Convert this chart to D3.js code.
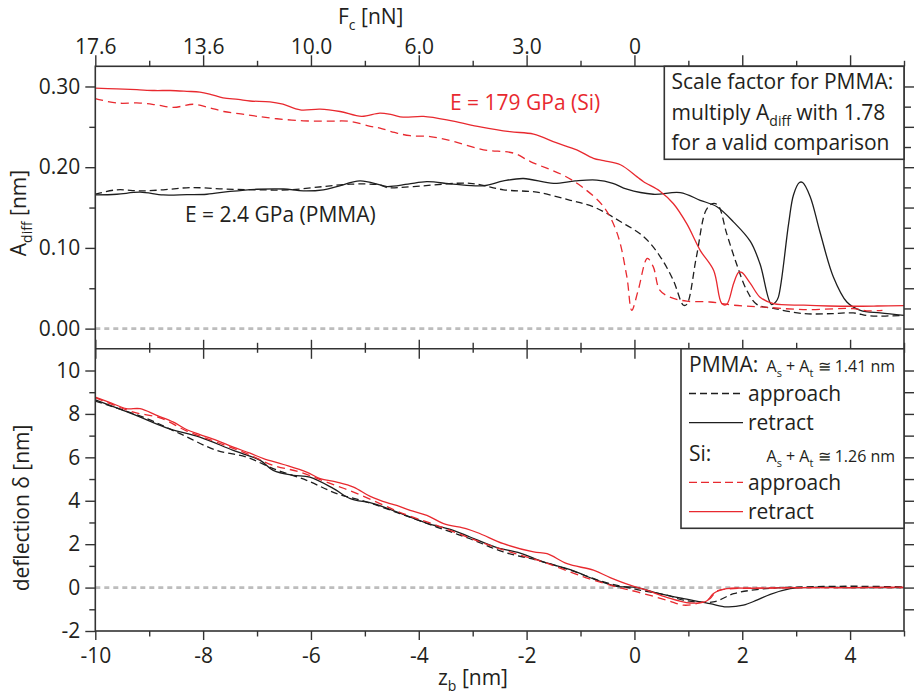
<!DOCTYPE html>
<html>
<head>
<meta charset="utf-8">
<script src="https://cdn.jsdelivr.net/npm/d3@7"></script>
<style>
  html, body { margin: 0; padding: 0; background: #fff; }
  svg { display: block; font-family: "Open Sans", "Noto Sans", sans-serif; }
</style>
</head>
<body>
<svg id="chart" width="914" height="698"></svg>
<script>
// ---- data: z_b in nm, A_diff in nm (top), deflection in nm (bottom) ----
const siRetractAdiff = [
  [-10,0.298],[-9.6,0.297],[-9.23,0.296],[-8.9,0.295],[-8.61,0.295],[-8.3,0.294],[-8.06,0.293],
  [-7.85,0.290],[-7.63,0.286],[-7.35,0.284],[-7.13,0.282],[-6.76,0.281],[-6.52,0.278],[-6.2,0.271],
  [-5.83,0.272],[-5.46,0.269],[-5.06,0.263],[-4.72,0.267],[-4.5,0.265],[-4.29,0.262],[-3.91,0.263],
  [-3.36,0.257],[-2.86,0.250],[-2.31,0.244],[-1.87,0.241],[-1.44,0.230],[-1.07,0.2215],[-0.76,0.211],
  [-0.57,0.208],[-0.26,0.203],[0.05,0.188],[0.17,0.182],[0.48,0.170],[0.72,0.155],[0.97,0.130],
  [1.22,0.097],[1.47,0.072],[1.62,0.031],[1.71,0.030],[1.84,0.056],[1.93,0.0696],[1.99,0.0696],
  [2.15,0.056],[2.33,0.039],[2.58,0.031],[3.14,0.029],[3.6,0.028],[4.06,0.0277],[4.5,0.028],[5.0,0.0286]
];
const siApproachAdiff = [
  [-10,0.285],[-9.6,0.2795],[-9.17,0.2795],[-8.85,0.277],[-8.55,0.274],[-8.18,0.278],[-7.9,0.274],
  [-7.62,0.269],[-7.3,0.266],[-7.0,0.263],[-6.63,0.260],[-6.14,0.2575],[-5.7,0.257],[-5.27,0.2567],
  [-4.9,0.2505],[-4.72,0.2485],[-4.45,0.243],[-4.16,0.239],[-3.79,0.238],[-3.36,0.232],[-2.8,0.2215],
  [-2.24,0.2174],[-1.93,0.207],[-1.32,0.190],[-0.98,0.176],[-0.57,0.151],[-0.32,0.118],[-0.14,0.064],
  [-0.05,0.0227],[0.07,0.0476],[0.24,0.087],[0.35,0.0765],[0.47,0.0476],[0.66,0.039],[0.97,0.034],
  [1.40,0.033],[1.84,0.029],[2.33,0.027],[3.13,0.0236],[4.06,0.0248],[4.31,0.022],[4.6,0.0227]
];
const pmmaRetractAdiff = [
  [-10,0.1656],[-9.6,0.1665],[-9.17,0.169],[-8.74,0.1656],[-8.3,0.166],[-7.93,0.1665],[-7.5,0.170],
  [-7.0,0.1727],[-6.51,0.173],[-6.14,0.1706],[-5.77,0.172],[-5.52,0.176],[-5.09,0.183],[-4.72,0.178],
  [-4.59,0.176],[-4.2,0.179],[-3.85,0.182],[-3.36,0.179],[-2.80,0.177],[-2.43,0.183],[-2.06,0.186],
  [-1.50,0.180],[-1.1,0.183],[-0.70,0.184],[-0.4,0.180],[-0.14,0.1727],[0.35,0.1665],[0.85,0.1685],
  [1.22,0.159],[1.53,0.151],[1.84,0.132],[2.15,0.108],[2.33,0.080],[2.54,0.030],[2.62,0.033],
  [2.67,0.039],[2.86,0.130],[2.95,0.1656],[3.06,0.181],[3.12,0.181],[3.26,0.1635],[3.44,0.120],
  [3.69,0.064],[3.94,0.033],[4.19,0.0227],[4.56,0.0194],[5.0,0.0165]
];
const pmmaApproachAdiff = [
  [-10,0.1665],[-9.6,0.172],[-9.17,0.1706],[-8.74,0.172],[-8.24,0.1747],[-7.62,0.173],[-7.0,0.172],
  [-6.39,0.172],[-5.77,0.176],[-5.27,0.179],[-4.72,0.178],[-4.59,0.1747],[-4.10,0.176],[-3.05,0.180],
  [-2.43,0.172],[-1.81,0.169],[-1.19,0.159],[-0.73,0.150],[-0.27,0.133],[0.17,0.114],[0.48,0.089],
  [0.72,0.060],[0.91,0.029],[0.97,0.030],[1.15,0.089],[1.33,0.147],[1.45,0.155],[1.55,0.153],
  [1.71,0.118],[1.89,0.081],[2.08,0.048],[2.27,0.030],[2.6,0.0248],[3.14,0.0186],[3.67,0.0186],
  [4.06,0.0194],[4.37,0.0157],[5.0,0.0165]
];

const siRetractDefl = [
  [-10,8.77],[-9.7,8.5],[-9.42,8.24],[-9.17,8.24],[-8.86,7.93],[-8.55,7.62],[-8.30,7.27],[-8.06,7.05],
  [-7.75,6.78],[-7.44,6.47],[-7.13,6.19],[-6.88,5.94],[-6.51,5.67],[-6.08,5.32],[-5.83,5.02],
  [-5.52,4.86],[-5.21,4.63],[-4.90,4.20],[-4.59,3.91],[-4.41,3.79],[-4.16,3.56],[-3.85,3.33],
  [-3.54,2.95],[-3.11,2.71],[-2.86,2.48],[-2.43,2.02],[-1.87,1.64],[-1.62,1.56],[-1.25,1.10],
  [-0.76,0.80],[-0.45,0.46],[-0.08,0.11],[0.23,-0.12],[0.60,-0.45],[1.03,-0.71],[1.34,-0.62],
  [1.46,-0.28],[1.71,-0.05],[2.2,-0.03],[3.0,0.0],[4.0,0.0],[5.0,0.02]
];
const siApproachDefl = [
  [-10,8.75],[-9.7,8.45],[-9.29,8.08],[-8.8,7.82],[-8.30,7.21],[-7.75,6.70],[-7.19,6.17],[-6.70,5.63],
  [-6.20,5.32],[-5.71,4.86],[-5.21,4.40],[-4.72,3.87],[-4.29,3.41],[-3.67,2.87],[-2.86,2.10],
  [-2.31,1.64],[-1.69,1.18],[-0.94,0.49],[-0.33,0.03],[0.05,-0.20],[0.60,-0.58],[0.91,-0.81],
  [1.15,-0.74],[1.40,-0.51],[1.53,-0.16],[1.84,-0.05],[2.5,-0.02],[3.5,0.0],[5.0,0.0]
];
const pmmaRetractDefl = [
  [-10,8.65],[-9.29,7.98],[-8.68,7.36],[-8.06,6.93],[-7.44,6.32],[-6.94,5.86],[-6.70,5.40],
  [-6.33,5.17],[-6.02,5.09],[-5.58,4.56],[-5.27,4.10],[-4.84,3.87],[-4.3,3.38],[-3.79,2.92],
  [-3.36,2.64],[-3.05,2.33],[-2.55,1.84],[-2.12,1.59],[-1.69,1.18],[-1.19,0.83],[-0.70,0.34],
  [-0.33,0.06],[0.05,0.0],[0.42,-0.25],[0.91,-0.51],[1.40,-0.74],[1.71,-0.89],[2.02,-0.81],
  [2.27,-0.58],[2.52,-0.31],[2.89,-0.05],[3.07,0.0],[4.0,0.0],[5.0,0.0]
];
const pmmaApproachDefl = [
  [-10,8.59],[-9.11,7.85],[-8.43,7.09],[-7.75,6.32],[-7.19,6.01],[-6.70,5.48],[-6.08,4.94],
  [-5.52,4.33],[-4.96,3.94],[-4.35,3.41],[-3.67,2.79],[-3.05,2.25],[-2.43,1.64],[-1.81,1.26],
  [-1.19,0.80],[-0.57,0.26],[0.05,-0.09],[0.60,-0.35],[0.91,-0.58],[1.46,-0.66],[1.84,-0.28],
  [2.27,-0.09],[2.76,0.0],[3.5,0.05],[4.2,0.06],[5.0,0.03]
];

// ---- ticks ----
const zMajorTicks = [-10, -8, -6, -4, -2, 0, 2, 4];
const zMinorTicks = [-9, -7, -5, -3, -1, 1, 3, 5];
const zLabelTicks = [-10, -8, -6, -4, -2, 0, 2, 4];
const forceTickPositions = [-10, -8, -6, -4, -2, 0];
const forceTickLabels = ["17.6", "13.6", "10.0", "6.0", "3.0", "0"];
const adiffMajorTicks = [0, 0.1, 0.2, 0.3];
const adiffMinorTicks = [0.05, 0.15, 0.25];
const adiffRightMajor = [0, 0.05, 0.1, 0.15, 0.2, 0.25, 0.3];
const adiffRightMinor = [0.025, 0.075, 0.125, 0.175, 0.225, 0.275];
const deflMajorTicks = [-2, 0, 2, 4, 6, 8, 10];
const deflMinorTicks = [-1, 1, 3, 5, 7, 9];
const deflRightTicks = [-1, 0, 1, 2, 3, 4, 5, 6, 7, 8, 9, 10];

// ---- layout ----
const RED = "#e8292f", BLACK = "#1e1e1e", AXIS = "#333", TXT = "#231f20";
const plotLeft = 95.3, plotRight = 904, plotTop = 66.3, plotMid = 348.8, plotBottom = 631;

const svg = d3.select("#chart");
const x = d3.scaleLinear().domain([-10, 5]).range([plotLeft, plotRight]);
const yA = d3.scaleLinear().domain([-0.025, 0.325]).range([plotMid, plotTop]);
const yD = d3.scaleLinear().domain([-2, 11]).range([plotBottom, plotMid]);

// integer labels with a plain hyphen for the minus sign
const intLabel = d => String(d);

function styleAxis(g) {
  g.select(".domain").remove();
  g.selectAll(".tick line").attr("stroke", AXIS).attr("stroke-width", 1.4);
  g.selectAll(".tick text").attr("font-family", "'Open Sans', sans-serif")
    .attr("font-size", 21).attr("fill", TXT);
}
function addAxis(axis, tx, ty) {
  return svg.append("g").attr("transform", `translate(${tx},${ty})`).call(axis).call(styleAxis);
}
const blank = () => "";

// zero reference lines
[yA, yD].forEach(s => {
  svg.append("line").attr("x1", x(-10)).attr("x2", x(5)).attr("y1", s(0)).attr("y2", s(0))
    .attr("stroke", "#bdbdbd").attr("stroke-width", 2.6).attr("stroke-dasharray", "5,4");
});

// curves
const lineA = d3.line().x(d => x(d[0])).y(d => yA(d[1])).curve(d3.curveCatmullRom.alpha(0.5));
const lineD = d3.line().x(d => x(d[0])).y(d => yD(d[1])).curve(d3.curveCatmullRom.alpha(0.5));
const series = [
  { data: pmmaApproachAdiff, gen: lineA, color: BLACK, dash: "7,4" },
  { data: pmmaRetractAdiff, gen: lineA, color: BLACK, dash: null },
  { data: siApproachAdiff, gen: lineA, color: RED, dash: "8,5" },
  { data: siRetractAdiff, gen: lineA, color: RED, dash: null },
  { data: pmmaApproachDefl, gen: lineD, color: BLACK, dash: "7,4" },
  { data: pmmaRetractDefl, gen: lineD, color: BLACK, dash: null },
  { data: siApproachDefl, gen: lineD, color: RED, dash: "8,5" },
  { data: siRetractDefl, gen: lineD, color: RED, dash: null }
];
series.forEach(s => {
  svg.append("path").attr("d", s.gen(s.data)).attr("fill", "none")
    .attr("stroke", s.color).attr("stroke-width", 1.3)
    .attr("stroke-dasharray", s.dash);
});

// panel frames
svg.append("rect").attr("x", plotLeft).attr("y", plotTop)
  .attr("width", plotRight - plotLeft).attr("height", plotBottom - plotTop)
  .attr("fill", "none").attr("stroke", AXIS).attr("stroke-width", 1.6);
svg.append("line").attr("x1", plotLeft).attr("x2", plotRight).attr("y1", plotMid).attr("y2", plotMid)
  .attr("stroke", AXIS).attr("stroke-width", 1.6);

// top axis (contact force)
addAxis(d3.axisTop(x).tickValues(forceTickPositions).tickSize(11).tickPadding(1.5)
  .tickFormat((d, i) => forceTickLabels[i]), 0, plotTop);
addAxis(d3.axisTop(x).tickValues([2, 4]).tickSize(11).tickFormat(blank), 0, plotTop);
addAxis(d3.axisTop(x).tickValues(zMinorTicks).tickSize(5.5).tickFormat(blank), 0, plotTop);

// shared separator ticks
addAxis(d3.axisBottom(x).tickValues(zMajorTicks).tickSize(-9).tickFormat(blank), 0, plotMid);
addAxis(d3.axisBottom(x).tickValues(zMinorTicks).tickSize(-6).tickFormat(blank), 0, plotMid);
addAxis(d3.axisTop(x).tickValues(zMajorTicks).tickSize(-10).tickFormat(blank), 0, plotMid);
addAxis(d3.axisTop(x).tickValues(zMinorTicks).tickSize(-4).tickFormat(blank), 0, plotMid);

// bottom axis
addAxis(d3.axisBottom(x).tickValues(zLabelTicks).tickSize(9).tickPadding(8)
  .tickFormat(intLabel), 0, plotBottom);
addAxis(d3.axisBottom(x).tickValues(zMinorTicks).tickSize(5.5).tickFormat(blank), 0, plotBottom);

// left axes
addAxis(d3.axisLeft(yA).tickValues(adiffMajorTicks).tickSize(10).tickPadding(5)
  .tickFormat(d3.format(".2f")), plotLeft, 0);
addAxis(d3.axisLeft(yA).tickValues(adiffMinorTicks).tickSize(6).tickFormat(blank), plotLeft, 0);
addAxis(d3.axisLeft(yD).tickValues(deflMajorTicks).tickSize(10).tickPadding(5)
  .tickFormat(intLabel), plotLeft, 0);
addAxis(d3.axisLeft(yD).tickValues(deflMinorTicks).tickSize(6).tickFormat(blank), plotLeft, 0);

// right axes
addAxis(d3.axisRight(yA).tickValues(adiffRightMajor).tickSize(10).tickFormat(blank), plotRight, 0);
addAxis(d3.axisRight(yA).tickValues(adiffRightMinor).tickSize(7).tickFormat(blank), plotRight, 0);
addAxis(d3.axisRight(yD).tickValues(deflRightTicks).tickSize(10).tickFormat(blank), plotRight, 0);

// axis titles
function title(sel, main, sub, rest, subSize) {
  sel.append("tspan").text(main);
  sel.append("tspan").attr("dy", 6).attr("font-size", subSize).text(sub);
  sel.append("tspan").attr("dy", -6).text(rest);
}
title(svg.append("text").attr("x", 338).attr("y", 24).attr("font-size", 21).attr("fill", TXT),
  "F", "c", " [nN]", 14);
title(svg.append("text").attr("x", 438).attr("y", 685).attr("font-size", 21).attr("fill", TXT),
  "z", "b", " [nm]", 14);
title(svg.append("text").attr("transform", "translate(26,213) rotate(-90)").attr("text-anchor", "middle")
  .attr("font-size", 21).attr("fill", TXT), "A", "diff", " [nm]", 14);
svg.append("text").attr("transform", "translate(29,508) rotate(-90)").attr("text-anchor", "middle")
  .attr("font-size", 21).attr("fill", TXT).text("deflection δ [nm]");

// curve annotations
svg.append("text").attr("x", 450).attr("y", 110).attr("font-size", 21).attr("fill", RED)
  .text("E = 179 GPa (Si)");
svg.append("text").attr("x", 185).attr("y", 222).attr("font-size", 21).attr("fill", TXT)
  .text("E = 2.4 GPa (PMMA)");

// scale-factor note
svg.append("rect").attr("x", 664.3).attr("y", plotTop).attr("width", plotRight - 664.3)
  .attr("height", 159.3 - plotTop)
  .attr("fill", "#fff").attr("stroke", AXIS).attr("stroke-width", 1.6);
const note = svg.append("g").attr("font-size", 21).attr("fill", TXT);
note.append("text").attr("x", 671.5).attr("y", 88.5).text("Scale factor for PMMA:");
title(note.append("text").attr("x", 671.5).attr("y", 120), "multiply A", "diff", " with 1.78", 14);
note.append("text").attr("x", 671.5).attr("y", 149.5).text("for a valid comparison");

// legend
svg.append("rect").attr("x", 681).attr("y", plotMid).attr("width", plotRight - 681)
  .attr("height", 528.3 - plotMid)
  .attr("fill", "#fff").attr("stroke", AXIS).attr("stroke-width", 1.6);
const lg = svg.append("g").attr("fill", TXT);
function sumLine(yb, value) {
  const t = lg.append("text").attr("x", 766.5).attr("y", yb).attr("font-size", 16);
  t.append("tspan").text("A");
  t.append("tspan").attr("dy", 5).attr("font-size", 11).text("s");
  t.append("tspan").attr("dy", -5).text(" + A");
  t.append("tspan").attr("dy", 5).attr("font-size", 11).text("t");
  t.append("tspan").attr("dy", -5).text(" \u2245 " + value + " nm");
}
lg.append("text").attr("x", 689).attr("y", 372).attr("font-size", 21).text("PMMA:");
sumLine(372, "1.41");
lg.append("text").attr("x", 689).attr("y", 461).attr("font-size", 21).text("Si:");
sumLine(462, "1.26");
const legendRows = [
  { y: 393.5, color: BLACK, dash: "7,4", label: "approach" },
  { y: 422.7, color: BLACK, dash: null, label: "retract" },
  { y: 482.3, color: RED, dash: "8,4", label: "approach" },
  { y: 511.7, color: RED, dash: null, label: "retract" }
];
legendRows.forEach(r => {
  lg.append("line").attr("x1", 689).attr("x2", 743).attr("y1", r.y).attr("y2", r.y)
    .attr("stroke", r.color).attr("stroke-width", 1.3).attr("stroke-dasharray", r.dash);
  lg.append("text").attr("x", 748).attr("y", r.y + 7.5).attr("font-size", 21).text(r.label);
});
</script>
</body>
</html>
